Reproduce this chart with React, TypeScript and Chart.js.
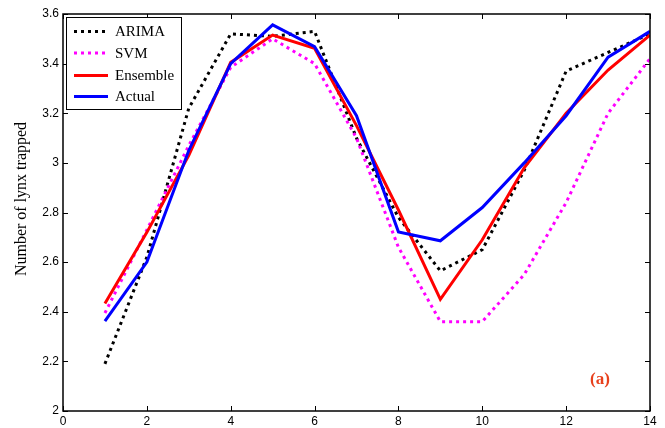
import React, { useEffect, useRef } from "react";
import { Chart, registerables } from "chart.js";

Chart.register(...registerables);

const xValues = [1, 2, 3, 4, 5, 6, 7, 8, 9, 10, 11, 12, 13, 14];
const arima = [2.19, 2.62, 3.22, 3.52, 3.51, 3.53, 3.1, 2.78, 2.565, 2.65, 2.97, 3.37, 3.445, 3.52];
const svm = [2.395, 2.73, 3.07, 3.385, 3.5, 3.4, 3.1, 2.66, 2.36, 2.36, 2.55, 2.84, 3.2, 3.42];
const ensemble = [2.433, 2.72, 3.03, 3.405, 3.515, 3.462, 3.15, 2.81, 2.45, 2.69, 2.98, 3.2, 3.374, 3.515];
const actual = [2.362, 2.6, 3.05, 3.4, 3.556, 3.468, 3.19, 2.722, 2.686, 2.82, 3.0, 3.19, 3.426, 3.53];

const seriesNames = ["ARIMA", "SVM", "Ensemble", "Actual"];
const yTitle = "Number of lynx trapped";
const panelLabel = "(a)";

const toPts = (arr: number[]) => arr.map((v, i) => ({ x: xValues[i], y: v }));

const framePlugin = {
  id: "frame",
  afterDatasetsDraw(chart: any) {
    const { ctx, chartArea: a, scales } = chart;
    const x = scales.x;
    const y = scales.y;
    ctx.save();
    // inward ticks
    ctx.strokeStyle = "#000";
    ctx.lineWidth = 1;
    const tl = 5;
    ctx.beginPath();
    for (let v = 0; v <= 14; v += 2) {
      const px = Math.round(x.getPixelForValue(v)) + 0.5;
      ctx.moveTo(px, a.bottom);
      ctx.lineTo(px, a.bottom - tl);
      ctx.moveTo(px, a.top);
      ctx.lineTo(px, a.top + tl);
    }
    for (let i = 0; i <= 8; i++) {
      const v = 2 + i * 0.2;
      const py = Math.round(y.getPixelForValue(v)) + 0.5;
      ctx.moveTo(a.left, py);
      ctx.lineTo(a.left + tl, py);
      ctx.moveTo(a.right, py);
      ctx.lineTo(a.right - tl, py);
    }
    ctx.stroke();
    // frame
    ctx.lineWidth = 1.5;
    ctx.strokeRect(a.left, a.top, a.right - a.left, a.bottom - a.top);

    // legend
    const lx = 66.5, ly = 17.5, lw = 115, lh = 92;
    ctx.fillStyle = "#fff";
    ctx.fillRect(lx, ly, lw, lh);
    ctx.lineWidth = 1;
    ctx.strokeStyle = "#000";
    ctx.strokeRect(lx, ly, lw, lh);
    const rows = [31.5, 53, 75.5, 96.5];
    const styles = [
      { c: "#000000", dash: [3, 4] },
      { c: "#ff00ff", dash: [3, 4] },
      { c: "#ff0000", dash: [] },
      { c: "#0000ff", dash: [] },
    ];
    ctx.font = "15px 'Liberation Serif', serif";
    ctx.textBaseline = "middle";
    ctx.textAlign = "left";
    rows.forEach((ry, i) => {
      ctx.beginPath();
      ctx.setLineDash(styles[i].dash);
      ctx.lineWidth = 3;
      ctx.strokeStyle = styles[i].c;
      ctx.moveTo(74, ry);
      ctx.lineTo(108, ry);
      ctx.stroke();
      ctx.setLineDash([]);
      ctx.fillStyle = "#000";
      ctx.fillText(seriesNames[i], 115, ry + 1);
    });

    // panel label
    ctx.font = "bold 17px 'Liberation Serif', serif";
    ctx.fillStyle = "#e8401c";
    ctx.textAlign = "left";
    ctx.fillText(panelLabel, 590, 380);

    // y title
    ctx.save();
    ctx.translate(22, 199);
    ctx.rotate(-Math.PI / 2);
    ctx.font = "16px 'Liberation Serif', serif";
    ctx.fillStyle = "#000";
    ctx.textAlign = "center";
    ctx.textBaseline = "middle";
    ctx.fillText(yTitle, 0, 0);
    ctx.restore();

    ctx.restore();
  },
};

export default function App() {
  const ref = useRef<HTMLCanvasElement | null>(null);
  useEffect(() => {
    document.body.style.margin = "0";
    const canvas = ref.current;
    if (!canvas) return;
    const common = { fill: false, pointRadius: 0, tension: 0, borderWidth: 3 };
    const chart = new Chart(canvas, {
      type: "line",
      data: {
        datasets: [
          { ...common, label: seriesNames[0], data: toPts(arima), borderColor: "#000000", borderDash: [3, 4], order: 3 },
          { ...common, label: seriesNames[1], data: toPts(svm), borderColor: "#ff00ff", borderDash: [3, 4], order: 2 },
          { ...common, label: seriesNames[2], data: toPts(ensemble), borderColor: "#ff0000", order: 1 },
          { ...common, label: seriesNames[3], data: toPts(actual), borderColor: "#0000ff", order: 0 },
        ] as any,
      },
      options: {
        animation: false,
        responsive: false,
        maintainAspectRatio: false,
        layout: { padding: { top: 14, right: 15, left: 0, bottom: 0 } },
        plugins: { legend: { display: false }, tooltip: { enabled: false } },
        scales: {
          x: {
            type: "linear",
            min: 0,
            max: 14,
            grid: { display: false, drawTicks: false },
            border: { display: false },
            ticks: {
              stepSize: 2,
              color: "#000",
              padding: 3,
              maxRotation: 0,
              font: { family: "'Liberation Sans', Arial, sans-serif", size: 12 },
            },
            afterFit: (s: any) => {
              s.height = 17;
            },
          },
          y: {
            type: "linear",
            min: 2,
            max: 3.6,
            grid: { display: false, drawTicks: false },
            border: { display: false },
            ticks: {
              stepSize: 0.2,
              color: "#000",
              padding: 4,
              font: { family: "'Liberation Sans', Arial, sans-serif", size: 12 },
              callback: (v: any) => String(parseFloat(Number(v).toFixed(1))),
            },
            afterFit: (s: any) => {
              s.width = 63;
            },
          },
        },
      },
      plugins: [framePlugin],
    });
    return () => chart.destroy();
  }, []);
  return <canvas ref={ref} width={665} height={428} style={{ display: "block" }} />;
}
